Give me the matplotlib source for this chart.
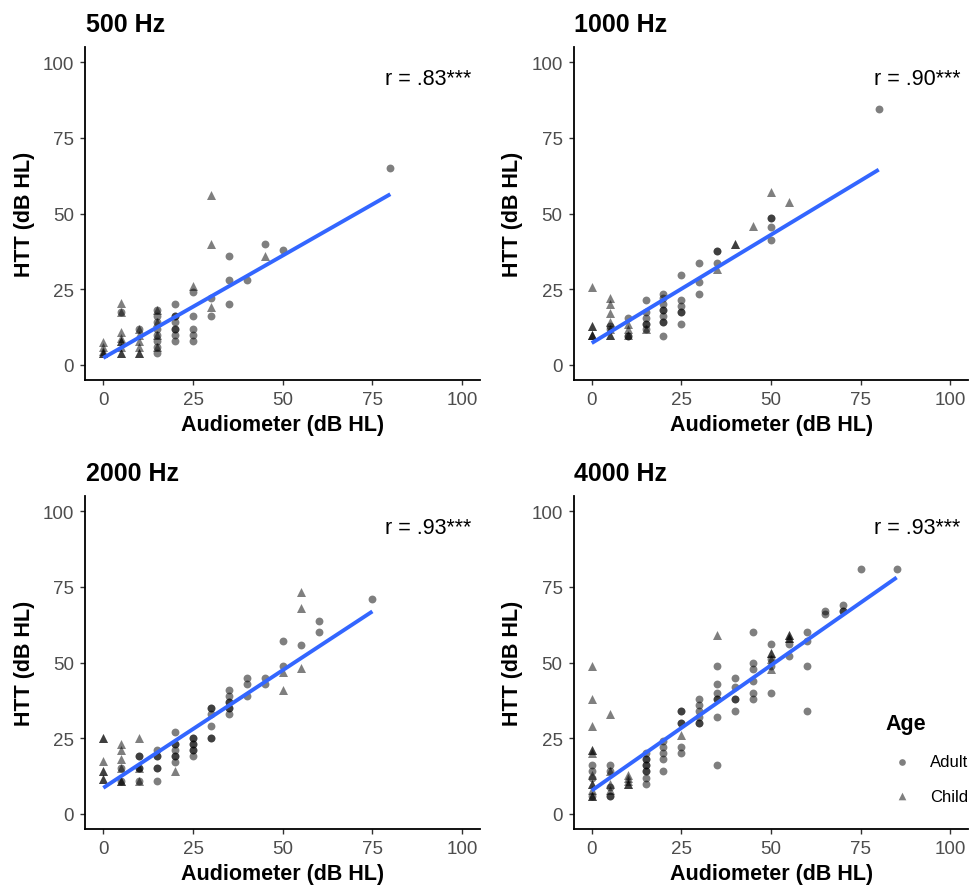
import numpy as np
import matplotlib
matplotlib.use("Agg")
import matplotlib.pyplot as plt

plt.rcParams['font.family'] = ['Liberation Sans', 'DejaVu Sans']

# panel titles and correlation labels
titles = ["500 Hz", "1000 Hz", "2000 Hz", "4000 Hz"]
r_labels = ["r = .83***", "r = .90***", "r = .93***", "r = .93***"]
ticks = [0, 25, 50, 75, 100]

# 500 Hz
adult_x_500 = [80, 50, 45, 40, 35, 35, 35, 30, 30, 25, 25, 25, 25, 25,
               20, 20, 20, 20, 20, 20, 20, 20, 15, 15, 15, 15, 15, 15, 15, 15, 10, 5]
adult_y_500 = [65, 38, 40, 28, 36, 28, 20, 22, 16, 24, 16, 12, 10, 8,
               20, 16, 16, 14, 12, 12, 10, 8, 18, 16, 14, 12, 10, 8, 6, 4, 12, 17.5]
child_x_500 = [30, 30, 30, 45, 25, 0, 0, 0, 0, 0, 5, 5, 5, 5, 5, 5, 5, 5, 5,
               10, 10, 10, 10, 10, 10, 15, 15, 15, 15]
child_y_500 = [56, 40, 19, 36, 26, 7.5, 6, 4.5, 4, 4, 20.5, 17.5, 11, 9, 8, 8, 6, 4, 4,
               12, 10, 8, 6, 4, 4, 18, 14, 10, 6]

# 1000 Hz
adult_x_1000 = [80, 50, 50, 50, 50, 35, 35, 35, 30, 30, 30, 25, 25, 25, 25, 25, 25,
                20, 20, 20, 20, 20, 20, 20, 20, 20, 15, 15, 15, 15, 15, 15, 10, 10, 10, 5, 5]
adult_y_1000 = [84.5, 48.5, 48.5, 45.4, 41.4, 37.5, 37.5, 33.7, 33.7, 27.5, 23.5,
                29.7, 21.5, 19.6, 17.6, 17.6, 13.5,
                23.5, 22, 20, 18, 18, 16, 14, 14, 9.5, 21.5, 17.6, 15.6, 13.5, 13.5, 12,
                15.6, 9.5, 9.5, 13, 12]
child_x_1000 = [0, 0, 0, 0, 0, 0, 5, 5, 5, 5, 5, 5, 5, 10, 10, 10,
                35, 40, 40, 45, 50, 55, 15]
child_y_1000 = [25.8, 13, 13, 10, 10, 10, 22, 20, 17, 14, 12, 10, 10, 13.5, 12, 10,
                31.7, 39.8, 39.8, 46, 57, 53.7, 12]

# 2000 Hz
adult_x_2000 = [75, 60, 60, 55, 50, 50, 45, 45, 40, 40, 40,
                35, 35, 35, 35, 35, 35, 35, 30, 30, 30, 30, 30, 30,
                25, 25, 25, 25, 25, 25, 25, 20, 20, 20, 20, 20, 20, 20,
                15, 15, 15, 15, 15, 15, 10, 10, 10, 10, 10, 5, 5]
adult_y_2000 = [71, 63.8, 60, 55.8, 57, 49, 45, 43, 45, 43, 39,
                41, 39, 37, 37, 35, 35, 33, 35, 35, 33, 29, 25, 25,
                25, 25, 23, 23, 21, 21, 19, 27, 23, 23, 21, 19, 19, 17,
                21, 19, 19, 15, 15, 11, 19, 19, 15, 15, 11, 15, 11]
child_x_2000 = [0, 0, 0, 0, 0, 0, 0, 5, 5, 5, 5, 5, 5, 10, 10, 10,
                20, 50, 50, 55, 55, 55]
child_y_2000 = [25, 25, 17.5, 14, 14, 11.5, 11.5, 23, 21, 18, 15, 11, 11, 25, 15, 11,
                14, 47, 41, 73.4, 68, 48.2]

# 4000 Hz
adult_x_4000 = [85, 75, 70, 70, 70, 65, 65, 60, 60, 60, 60, 55, 55, 50, 50, 50, 50,
                45, 45, 45, 45, 45, 45, 40, 40, 40, 40, 40,
                35, 35, 35, 35, 35, 35, 35, 30, 30, 30, 30, 30, 30,
                25, 25, 25, 25, 25, 25, 20, 20, 20, 20, 20,
                15, 15, 15, 15, 15, 15, 15, 15, 15, 5, 5, 5, 5, 5, 0, 0, 0, 0]
adult_y_4000 = [81, 81, 69, 67, 67, 67, 66, 60, 57, 49, 34, 56, 52, 56, 51, 49, 40,
                60, 50, 48, 44, 40, 38, 45, 42, 38, 38, 34,
                49, 43, 40, 38, 38, 32, 16, 38, 36, 34, 32, 30, 30,
                34, 34, 30, 30, 22, 20, 24, 22, 20, 18, 14,
                20, 18, 18, 16, 16, 14, 14, 12, 10, 16, 14, 9, 6, 6, 16, 14, 12, 6]
child_x_4000 = [0, 0, 0, 0, 0, 0, 0, 0, 0, 0, 0, 0, 5, 5, 5, 5,
                10, 10, 10, 10, 10, 25, 35, 50, 50, 50, 50, 55, 55, 55, 55]
child_y_4000 = [49, 38, 29, 21, 21, 20, 13, 10, 10, 8, 6, 6, 33, 14, 10, 8,
                13, 12, 11, 10, 10, 26, 59, 53, 53, 51, 48, 59, 59, 58, 58]

adult_x = [adult_x_500, adult_x_1000, adult_x_2000, adult_x_4000]
adult_y = [adult_y_500, adult_y_1000, adult_y_2000, adult_y_4000]
child_x = [child_x_500, child_x_1000, child_x_2000, child_x_4000]
child_y = [child_y_500, child_y_1000, child_y_2000, child_y_4000]

# linear fit lines
fit_intercept = [2.3, 7.2, 8.6, 7.7]
fit_slope = [0.676, 0.716, 0.777, 0.828]

W, H = 974, 887
fig = plt.figure(figsize=(W / 100, H / 100), dpi=100)

# axes rectangles in pixels: left, top
lefts = [85.4, 573.8, 85.4, 573.8]
tops = [48, 48, 497, 497]
aw, ah = 394.6, 333

for i in range(4):
    ax = fig.add_axes([lefts[i] / W, 1 - (tops[i] + ah) / H, aw / W, ah / H])
    sa = ax.scatter(adult_x[i], adult_y[i], s=32, marker='o', color='black',
                    alpha=0.5, linewidths=0, label='Adult')
    sc = ax.scatter(child_x[i], child_y[i], s=42, marker='^', color='black',
                    alpha=0.5, linewidths=0, label='Child')
    xmax = max(max(adult_x[i]), max(child_x[i]))
    xs = np.array([0, xmax])
    ax.plot(xs, fit_intercept[i] + fit_slope[i] * xs, color='#3366FF', lw=2.8,
            solid_capstyle='butt')
    ax.set_xlim(-5, 105)
    ax.set_ylim(-5, 105)
    ax.set_xticks(ticks)
    ax.set_yticks(ticks)
    for s in ['top', 'right']:
        ax.spines[s].set_visible(False)
    for s in ['left', 'bottom']:
        ax.spines[s].set_linewidth(1.3)
        ax.spines[s].set_color('black')
    ax.tick_params(length=3.6, width=1.0, color='#333333', labelcolor='#4D4D4D',
                   labelsize=13.5, pad=4.5)
    ax.text(102.7, 94.5, r_labels[i], ha='right', va='center', fontsize=15.5,
            color='black')
    ax.set_xlabel("Audiometer (dB HL)", fontsize=15.5, fontweight='bold', va='center')
    ax.xaxis.set_label_coords(0.5, -0.133)
    ax.set_ylabel("HTT (dB HL)", fontsize=15.5, fontweight='bold', va='center')
    ax.yaxis.set_label_coords(-(85.4 - 24.5) / aw, 0.5)
    fig.text((lefts[i] + 0.6) / W, 1 - (tops[i] - 16.3) / H, titles[i],
             fontsize=18, fontweight='bold', va='baseline', ha='left')
    if i == 3:
        handles = [sa, sc]

leg = fig.legend(handles, ['Adult', 'Child'], title='Age', loc='upper left',
                 bbox_to_anchor=(877 / W, 1 - 706 / H), frameon=False,
                 fontsize=12, title_fontproperties={'weight': 'bold', 'size': 15.5},
                 alignment='left', borderpad=0, handlelength=2.0,
                 handletextpad=0.7, labelspacing=1.18, markerscale=0.85)

fig.savefig("out.png", dpi=100)
